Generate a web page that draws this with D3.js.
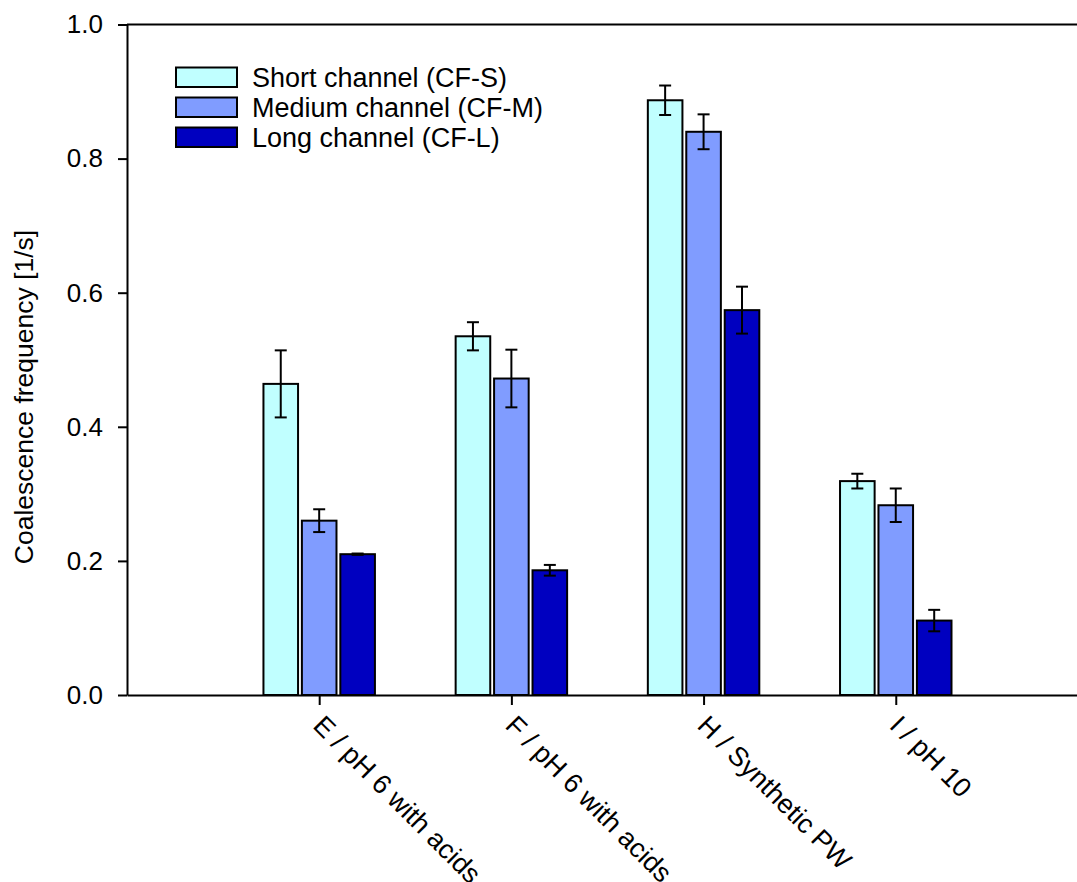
<!DOCTYPE html>
<html>
<head>
<meta charset="utf-8">
<script src="https://cdn.jsdelivr.net/npm/d3@7"></script>
<style>
  body { margin: 0; background: #fff; }
  text { font-family: Arial, "Liberation Sans", sans-serif; fill: #000; }
</style>
</head>
<body>
<div id="chart"></div>
<script>
// donnees
const categories = ["E / pH 6 with acids", "F / pH 6 with acids", "H / Synthetic PW", "I / pH 10"];
const series = ["Short channel (CF-S)", "Medium channel (CF-M)", "Long channel (CF-L)"];
const colors = ["#c0ffff", "#809cff", "#0000c0"];
const shortVals = [0.464, 0.535, 0.887, 0.319];
const shortErr = [0.050, 0.021, 0.022, 0.011];
const mediumVals = [0.260, 0.472, 0.840, 0.283];
const mediumErr = [0.017, 0.043, 0.026, 0.025];
const longVals = [0.210, 0.186, 0.574, 0.111];
const longErr = [0.001, 0.008, 0.035, 0.016];
const yTicks = [0, 0.2, 0.4, 0.6, 0.8, 1.0];

const width = 1077,
  height = 882;

const svg = d3
  .select("#chart")
  .append("svg")
  .attr("width", width)
  .attr("height", height);

// axe x : categories placees a 1, 2, 3, 4
const x = d3.scaleLinear().domain([0, 4.943]).range([127, 1077]);
const y = d3.scaleLinear().domain([0, 1]).range([695, 24.5]);

const values = [shortVals, mediumVals, longVals];
const errors = [shortErr, mediumErr, longErr];
const offsets = [-0.2, 0, 0.2];
const barW = 0.18;

const bars = [];
categories.forEach((c, i) => {
  series.forEach((s, j) => {
    bars.push({ pos: i + 1 + offsets[j], v: values[j][i], e: errors[j][i], j });
  });
});

svg
  .append("g")
  .selectAll("rect")
  .data(bars)
  .join("rect")
  .attr("x", (d) => x(d.pos - barW / 2))
  .attr("width", (d) => x(d.pos + barW / 2) - x(d.pos - barW / 2))
  .attr("y", (d) => y(d.v))
  .attr("height", (d) => y(0) - y(d.v))
  .style("fill", (d) => colors[d.j])
  .style("stroke", "#000")
  .style("stroke-width", 2);

// barres d'erreur
const err = svg.append("g").style("stroke", "#000").style("stroke-width", 2);
err
  .selectAll("line.v")
  .data(bars)
  .join("line")
  .attr("class", "v")
  .attr("x1", (d) => x(d.pos))
  .attr("x2", (d) => x(d.pos))
  .attr("y1", (d) => y(d.v + d.e))
  .attr("y2", (d) => y(d.v - d.e));
["top", "bottom"].forEach((side) => {
  err
    .selectAll("line." + side)
    .data(bars)
    .join("line")
    .attr("class", side)
    .attr("x1", (d) => x(d.pos) - 6)
    .attr("x2", (d) => x(d.pos) + 6)
    .attr("y1", (d) => y(side === "top" ? d.v + d.e : d.v - d.e))
    .attr("y2", (d) => y(side === "top" ? d.v + d.e : d.v - d.e));
});

// axe y
const yAxis = svg
  .append("g")
  .attr("transform", `translate(${x(0)},0)`)
  .call(
    d3
      .axisLeft(y)
      .tickValues(yTicks)
      .tickFormat(d3.format(".1f"))
      .tickSize(9)
      .tickSizeOuter(0)
      .tickPadding(15)
  );
yAxis.selectAll("path, line").style("stroke", "#000").style("stroke-width", 2);
yAxis.selectAll("text").style("font-size", "26px").style("font-family", null);

// axe x
const xAxis = svg
  .append("g")
  .attr("transform", `translate(0,${y(0)})`)
  .call(
    d3
      .axisBottom(x)
      .tickValues([1, 2, 3, 4])
      .tickSize(10)
      .tickSizeOuter(0)
      .tickFormat((d) => categories[d - 1])
  );
xAxis.selectAll("path, line").style("stroke", "#000").style("stroke-width", 2);
xAxis
  .selectAll("text")
  .attr("x", -8)
  .attr("y", 32)
  .attr("dy", 0)
  .attr("transform", "rotate(45, -8, 32)")
  .style("font-size", "27px")
  .style("font-family", null)
  .style("text-anchor", "start");

// ligne du haut
svg
  .append("line")
  .attr("x1", x(0))
  .attr("x2", width)
  .attr("y1", y(1))
  .attr("y2", y(1))
  .style("stroke", "#000")
  .style("stroke-width", 2);

// titre axe y
svg
  .append("text")
  .attr("transform", "translate(33,397) rotate(-90)")
  .style("text-anchor", "middle")
  .style("font-size", "26.5px")
  .text("Coalescence frequency [1/s]");

// legende
const legend = svg
  .append("g")
  .selectAll("g")
  .data(series)
  .join("g")
  .attr("transform", (d, i) => `translate(176,${67.5 + i * 30})`);
legend
  .append("rect")
  .attr("width", 61)
  .attr("height", 19.5)
  .style("fill", (d, i) => colors[i])
  .style("stroke", "#000")
  .style("stroke-width", 2);
legend
  .append("text")
  .attr("x", 76)
  .attr("y", 19)
  .style("font-size", "27px")
  .text((d) => d);
</script>
</body>
</html>
